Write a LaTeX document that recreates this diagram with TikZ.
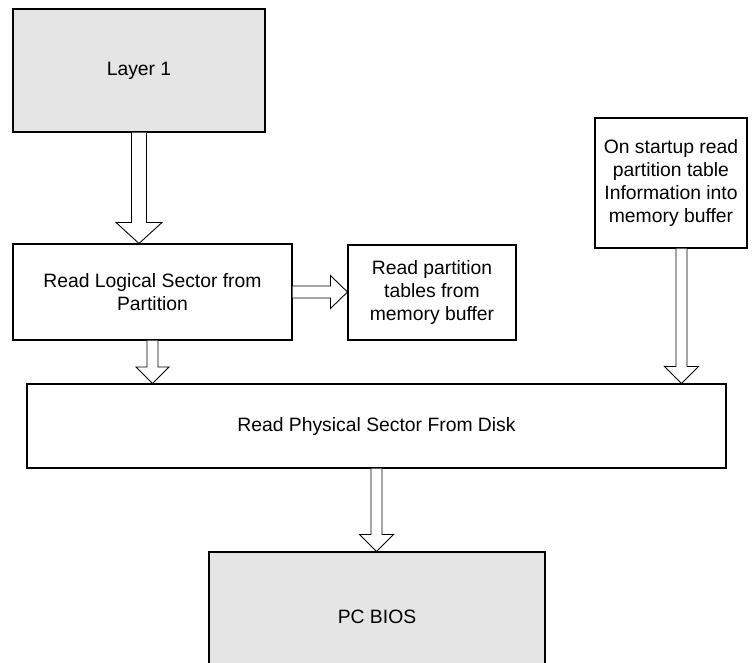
\documentclass[tikz,border=0pt]{standalone}
\usepackage{fontspec}
\setmainfont{Liberation Sans}
\usetikzlibrary{calc}
\definecolor{boxgray}{RGB}{229,229,229}
\tikzset{
    stage/.style={draw=black,line width=0.6pt,inner sep=0pt,align=center,
        font=\fontsize{11}{13}\selectfont},
    hwstage/.style={stage,fill=boxgray},
    blockarr/.style={draw=black,line width=0.5pt,fill=white}
}
\begin{document}
\begin{tikzpicture}
            \useasboundingbox (0,0) rectangle (15.12,-13.24);
            \clip (0,0) rectangle (15.12,-13.24);
            % boxes
            \node[hwstage,minimum width=5.04cm,minimum height=2.46cm]
                (layer) at (2.78,-1.41) {Layer 1};
            \node[stage,minimum width=5.58cm,minimum height=1.92cm]
                (logic) at (3.05,-5.84) {Read Logical Sector from\\Partition};
            \node[stage,minimum width=3.36cm,minimum height=1.90cm]
                (ptable) at (8.64,-5.85) {Read partition\\tables from\\memory buffer};
            \node[stage,minimum width=3.04cm,minimum height=2.60cm]
                (startup) at (13.42,-3.66) {On startup read\\partition table\\Information into\\memory buffer};
            \node[stage,minimum width=13.98cm,minimum height=1.68cm]
                (phys) at (7.53,-8.52) {Read Physical Sector From Disk};
            \node[hwstage,minimum width=6.72cm,minimum height=2.60cm]
                (bios) at (7.54,-12.34) {PC BIOS};
            % arrow ends
            \coordinate (a1s) at (layer.south);
            \coordinate (a1e) at (layer.south |- logic.north);
            \coordinate (a2s) at (logic.east);
            \coordinate (a2e) at (ptable.west |- logic.east);
            \coordinate (a3s) at (logic.south);
            \coordinate (a3e) at (logic.south |- phys.north);
            \coordinate (a4s) at ($(startup.south)+(0.21,0)$);
            \coordinate (a4e) at (a4s |- phys.north);
            \coordinate (a5s) at (phys.south);
            \coordinate (a5e) at (phys.south |- bios.north);
            % block arrows
            \draw[blockarr]
                ($(a1s)+(-0.15,0)$)
                --($(a1e)+(-0.15,0.42)$)--($(a1e)+(-0.46,0.42)$)
                --(a1e)
                --($(a1e)+(0.46,0.42)$)--($(a1e)+(0.15,0.42)$)
                --($(a1s)+(0.15,0)$);
            \draw[blockarr]
                ($(a2s)+(0,0.12)$)
                --($(a2e)+(-0.34,0.12)$)--($(a2e)+(-0.34,0.33)$)
                --(a2e)
                --($(a2e)+(-0.34,-0.33)$)--($(a2e)+(-0.34,-0.12)$)
                --($(a2s)+(0,-0.12)$);
            \draw[blockarr]
                ($(a3s)+(-0.11,0)$)
                --($(a3e)+(-0.11,0.33)$)--($(a3e)+(-0.33,0.33)$)
                --(a3e)
                --($(a3e)+(0.33,0.33)$)--($(a3e)+(0.11,0.33)$)
                --($(a3s)+(0.11,0)$);
            \draw[blockarr]
                ($(a4s)+(-0.11,0)$)
                --($(a4e)+(-0.11,0.34)$)--($(a4e)+(-0.34,0.34)$)
                --(a4e)
                --($(a4e)+(0.34,0.34)$)--($(a4e)+(0.11,0.34)$)
                --($(a4s)+(0.11,0)$);
            \draw[blockarr]
                ($(a5s)+(-0.11,0)$)
                --($(a5e)+(-0.11,0.34)$)--($(a5e)+(-0.34,0.34)$)
                --(a5e)
                --($(a5e)+(0.34,0.34)$)--($(a5e)+(0.11,0.34)$)
                --($(a5s)+(0.11,0)$);
        \end{tikzpicture}
\end{document}
